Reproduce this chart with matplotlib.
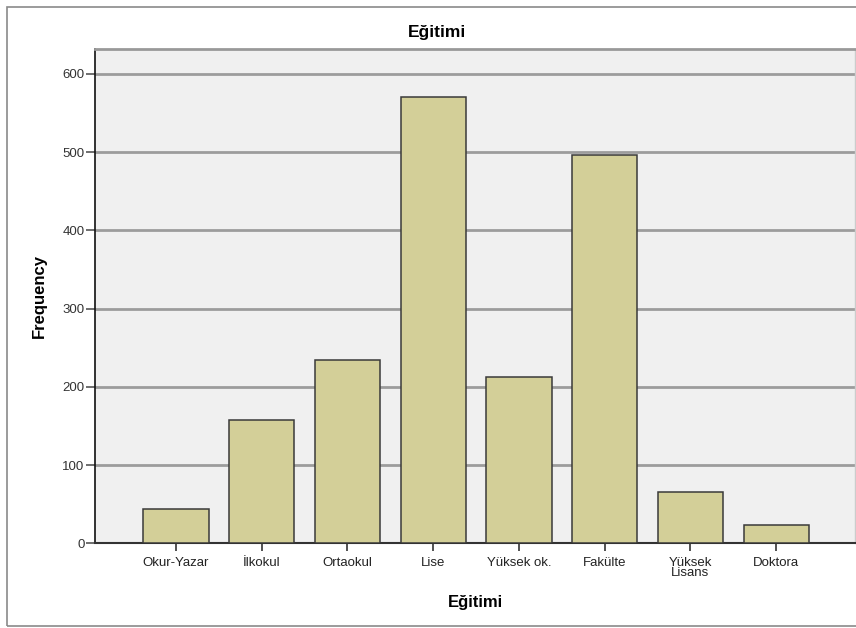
import matplotlib
matplotlib.use("Agg")
import matplotlib.pyplot as plt
from matplotlib.patches import Rectangle

categories = ["Okur-Yazar", "İlkokul", "Ortaokul", "Lise", "Yüksek ok.",
              "Fakülte", "Yüksek\nLisans", "Doktora"]
frequencies = [44, 157, 234, 571, 213, 497, 65, 23]
yticks = [0, 100, 200, 300, 400, 500, 600]

plt.rcParams['font.family'] = ['Liberation Sans', 'DejaVu Sans']

W, H = 856, 628
fig = plt.figure(figsize=(W / 100, H / 100), dpi=100)
fig.patch.set_facecolor("white")

# outer frame
fig.add_artist(Rectangle((7 / W, 1 - 626 / H), (W + 5 - 7) / W, (626 - 7) / H,
                         transform=fig.transFigure, fill=False,
                         edgecolor="#8a8a8a", linewidth=1.2, clip_on=False))

left, right, top, bottom = 95, 855, 49, 543.3
ax = fig.add_axes([left / W, 1 - bottom / H, (right - left) / W, (bottom - top) / H])
ax.set_facecolor("#f0f0f0")

x = list(range(len(categories)))
ax.set_axisbelow(True)
ax.yaxis.grid(True, color="#9c9c9c", linewidth=2.0)
ax.bar(x, frequencies, width=0.76, color="#d3cf98", edgecolor="#3a3a3a",
       linewidth=1.1, zorder=3)

ymax = 600 * (bottom - top) / (bottom - 74)
ax.set_ylim(0, ymax)
ax.set_xlim(-0.945, 7.92)
ax.set_yticks(yticks)
ax.set_xticks(x)
ax.set_xticklabels(categories, fontsize=9.5, linespacing=0.8, color="#222222")
ax.tick_params(axis="y", labelsize=9.5, length=6.5, width=1.2, color="#555555",
               pad=1.0, labelcolor="#333333")
ax.tick_params(axis="x", length=6, width=1.2, color="#333333", pad=4)

ax.spines["left"].set_color("#111111")
ax.spines["left"].set_linewidth(1.2)
ax.spines["bottom"].set_color("#333333")
ax.spines["bottom"].set_linewidth(1.5)
ax.spines["top"].set_color("#999999")
ax.spines["top"].set_linewidth(2.0)
ax.spines["right"].set_color("#cccccc")
ax.spines["right"].set_linewidth(1.0)

ax.set_ylabel("Frequency", fontsize=12, fontweight="bold", labelpad=11)
ax.set_xlabel("Eğitimi", fontsize=12, fontweight="bold", labelpad=11)
fig.text(437 / W, 1 - 33 / H, "Eğitimi", fontsize=12.5, fontweight="bold",
         ha="center", va="center")

fig.savefig("out.png", dpi=100)
